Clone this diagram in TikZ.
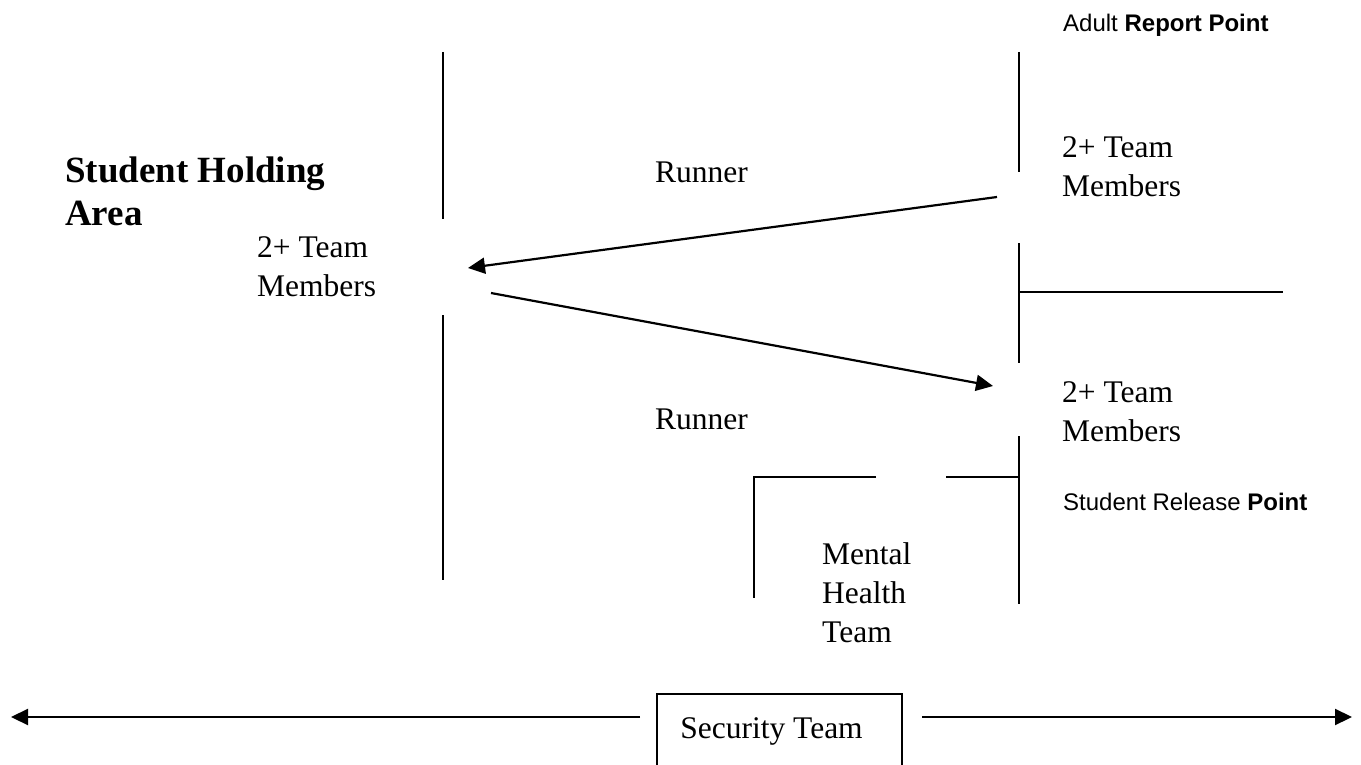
\documentclass[tikz,border=0pt]{standalone}
\usepackage{fontspec}
\setmainfont{Liberation Serif}
\newfontfamily\arialfont{Liberation Sans}
\usetikzlibrary{arrows.meta}
\begin{document}
\begin{tikzpicture}[x=1pt,y=-1pt,
  wall/.style={line width=2.2pt},
  arr/.style={line width=2.2pt,-{Triangle[length=17pt,width=16pt]}},
  lbl/.style={font=\fontsize{31.5}{39}\selectfont, align=left, anchor=west, inner sep=0pt},
  head/.style={font=\fontsize{37}{43}\selectfont\bfseries, align=left, anchor=west, inner sep=0pt},
  small/.style={font=\arialfont\fontsize{24}{28}\selectfont, anchor=west, inner sep=0pt},
  secbox/.style={draw, line width=2.2pt, font=\fontsize{31.5}{39}\selectfont, anchor=north, minimum width=245pt, inner ysep=24pt}
]
\clip (0,0) rectangle (1361,765);
% texts
\node[head] (sha) at (65,191) {Student Holding\\Area};
\node[lbl] (tm1) at (257,267) {2+ Team\\Members};
\node[lbl] (run1) at (655,172) {Runner};
\node[lbl] (run2) at (655,419) {Runner};
\node[lbl] (tm2) at (1062,167) {2+ Team\\Members};
\node[lbl] (tm3) at (1062,412) {2+ Team\\Members};
\node[lbl] (mht) at (822,593) {Mental\\Health\\Team};
\node[small] (arp) at (1063,25) {Adult \textbf{Report Point}};
\node[small] (srp) at (1063,502) {Student Release \textbf{Point}};
\node[secbox] (sec) at (779.5,693) {Security Team\hspace*{16pt}};
% walls
\draw[wall] (443,52) -- (443,219);
\draw[wall] (443,315) -- (443,580);
\draw[wall] (1019,52) -- (1019,172);
\draw[wall] (1019,243) -- (1019,363);
\draw[wall] (1019,292) -- (1283,292);
\draw[wall] (1019,436) -- (1019,604);
\draw[wall] (946,477) -- (1019,477);
\draw[wall] (876,477) -- (754,477) -- (754,598);
% arrows
\coordinate (a1s) at (997,197);
\coordinate (a1e) at (468,268);
\coordinate (a2s) at (491,293);
\coordinate (a2e) at (993,386);
\draw[arr] (a1s) -- (a1e);
\draw[arr] (a2s) -- (a2e);
\coordinate (bl) at (640,717);
\coordinate (ble) at (11,717);
\coordinate (br) at (922,717);
\coordinate (bre) at (1352,717);
\draw[arr] (bl) -- (ble);
\draw[arr] (br) -- (bre);
\end{tikzpicture}
\end{document}
